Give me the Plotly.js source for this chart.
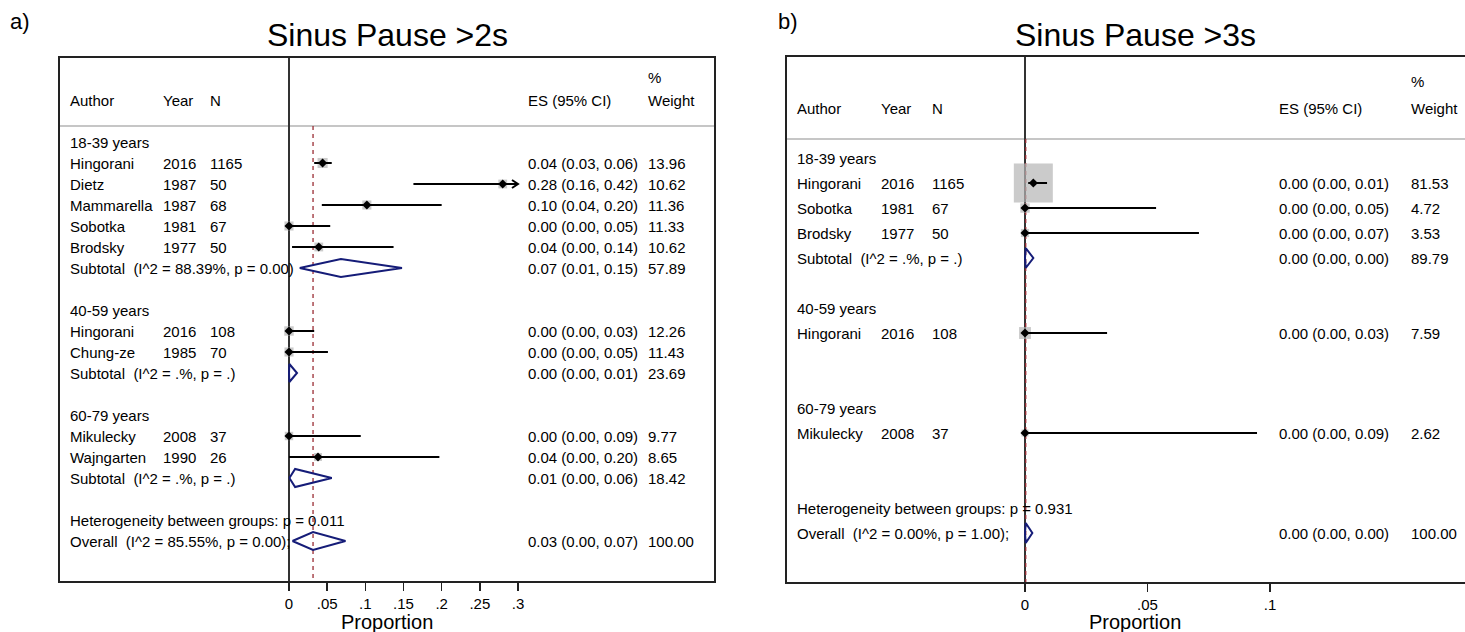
<!DOCTYPE html>
<html><head><meta charset="utf-8">
<script src="https://cdn.plot.ly/plotly-3.0.1.min.js"></script>
<style>html,body{margin:0;padding:0;background:#fff}#chart{width:1465px;height:632px}</style>
</head><body><div id="chart"></div>
<script>
// ---------- Panel a) Sinus Pause >2s ----------
const groupsA   = ['18-39 years','40-59 years','60-79 years'];
const authorsA  = ['Hingorani','Dietz','Mammarella','Sobotka','Brodsky','Hingorani','Chung-ze','Mikulecky','Wajngarten'];
const yearsA    = [2016,1987,1987,1981,1977,2016,1985,2008,1990];
const nA        = [1165,50,68,67,50,108,70,37,26];
const groupOfA  = [0,0,0,0,0,1,1,2,2];
const esA       = [0.044,0.28,0.102,0,0.039,0,0,0,0.038];
const lciA      = [0.033,0.163,0.043,0,0.004,0,0,0,0];
const uciA      = [0.056,0.42,0.20,0.054,0.137,0.033,0.051,0.094,0.197];
const weightA   = [13.96,10.62,11.36,11.33,10.62,12.26,11.43,9.77,8.65];
const subEsA    = [0.068,0.0005,0.008];
const subLciA   = [0.014,0,0.0005];
const subUciA   = [0.148,0.0105,0.056];
const subWA     = [57.89,23.69,18.42];
const subHetA   = ['I^2 = 88.39%, p = 0.00','I^2 = .%, p = .','I^2 = .%, p = .'];
const overallA  = {es:0.0315, lci:0.0045, uci:0.074, w:100, het:'I^2 = 85.55%, p = 0.00', pBetween:'0.011'};
const ticksA    = [0,0.05,0.1,0.15,0.2,0.25,0.3];
const tickTextA = ['0','.05','.1','.15','.2','.25','.3'];

// ---------- Panel b) Sinus Pause >3s ----------
const groupsB   = ['18-39 years','40-59 years','60-79 years'];
const authorsB  = ['Hingorani','Sobotka','Brodsky','Hingorani','Mikulecky'];
const yearsB    = [2016,1981,1977,2016,2008];
const nB        = [1165,67,50,108,37];
const groupOfB  = [0,0,0,1,2];
const esB       = [0.0034,0,0,0,0];
const lciB      = [0.0013,0,0,0,0];
const uciB      = [0.009,0.0535,0.071,0.0335,0.0947];
const weightB   = [81.53,4.72,3.53,7.59,2.62];
const subEsB    = [0.0003,null,null];
const subLciB   = [0,null,null];
const subUciB   = [0.0034,null,null];
const subWB     = [89.79,null,null];
const subHetB   = ['I^2 = .%, p = .',null,null];
const overallB  = {es:0.0003, lci:0, uci:0.003, w:100, het:'I^2 = 0.00%, p = 1.00', pBetween:'0.931'};
const ticksB    = [0,0.05,0.1];
const tickTextB = ['0','.05','.1'];

const W = 1465, H = 632;
const FONT = 'Liberation Sans, Arial, Helvetica, sans-serif';
const NAVY = '#151c78', GRAYBOX = '#b5b5b5', MAROON = '#9a2c34';

const panels = [
  {ax:'', title:'Sinus Pause &gt;2s', label:'a)', labelX:10,
   groups:groupsA, authors:authorsA, years:yearsA, n:nA, grp:groupOfA, es:esA, lci:lciA, uci:uciA, w:weightA,
   subEs:subEsA, subLci:subLciA, subUci:subUciA, subW:subWA, subHet:subHetA, overall:overallA,
   ticks:ticksA, tickText:tickTextA,
   domX:[60,714], domY:[58,581], x0:289, ppu:763.3, row0:100, rowH:21, boxK:2.7, diaH:9, esGap:'  ',
   cols:{author:70, year:163, n:210, es:528, w:648}, center:387},
  {ax:'2', title:'Sinus Pause &gt;3s', label:'b)', labelX:778,
   groups:groupsB, authors:authorsB, years:yearsB, n:nB, grp:groupOfB, es:esB, lci:lciB, uci:uciB, w:weightB,
   subEs:subEsB, subLci:subLciB, subUci:subUciB, subW:subWB, subHet:subHetB, overall:overallB,
   ticks:ticksB, tickText:tickTextB,
   domX:[787,1465], domY:[57,582], x0:1025, ppu:2450, row0:108, rowH:25, boxK:4.32, diaH:10,
   cols:{author:797, year:881, n:932, es:1279, w:1411}, center:1135}
];

const traces = [], annotations = [], shapes = [], layout = {};
const f2 = v => v.toFixed(2);
const esText = (e,l,u) => f2(e) + ' (' + f2(l) + ', ' + f2(u) + ')';

panels.forEach(p => {
  const xa = 'x' + p.ax, ya = 'y' + p.ax;
  const yref = ya;
  const txt = (xpx, row, text, opts) => annotations.push(Object.assign({
    xref:'paper', x:(xpx - 2) / W, yref:yref, y:row, text:text, showarrow:false,
    xanchor:'left', yanchor:'middle', font:{family:FONT, size:15, color:'#000'}
  }, opts || {}));

  // row layout
  const studyRow = [], subRow = [], grpRow = [];
  let r = 2;
  p.groups.forEach((g, gi) => {
    grpRow.push(r); r++;
    p.authors.forEach((a, i) => { if (p.grp[i] === gi) { studyRow[i] = r; r++; } });
    subRow.push(r); r += 2;
  });
  const hetRow = r, ovRow = r + 1;
  const xmaxTick = p.ticks[p.ticks.length - 1];

  // header
  txt(p.cols.author, 0, 'Author'); txt(p.cols.year, 0, 'Year'); txt(p.cols.n, 0, 'N');
  txt(p.cols.es, 0, 'ES (95% CI)'); txt(p.cols.w, 0, 'Weight'); txt(p.cols.w, -1.05, '%');

  p.groups.forEach((g, gi) => txt(p.cols.author, grpRow[gi], g));

  const sqX = [], sqY = [], sqS = [], dX = [], dY = [], lX = [], lY = [], arX = [], arY = [], diX = [], diY = [];
  p.authors.forEach((a, i) => {
    const row = studyRow[i];
    txt(p.cols.author, row, a); txt(p.cols.year, row, String(p.years[i])); txt(p.cols.n, row, String(p.n[i]));
    txt(p.cols.es, row, esText(p.es[i], p.lci[i], p.uci[i])); txt(p.cols.w, row, f2(p.w[i]));
    sqX.push(p.es[i]); sqY.push(row); sqS.push(p.boxK * Math.sqrt(p.w[i]));
    dX.push(p.es[i]); dY.push(row);
    const hi = Math.min(p.uci[i], xmaxTick);
    lX.push(p.lci[i], hi, null); lY.push(row, row, null);
    if (p.uci[i] > xmaxTick) {
      const dx = 6 / p.ppu, dy = 4 / p.rowH;
      arX.push(hi - dx, hi, hi - dx, null); arY.push(row - dy, row, row + dy, null);
    }
  });
  const diamond = (e, l, u, row) => {
    const h = p.diaH / p.rowH;
    diX.push(l, e, u, e, l, null); diY.push(row, row - h, row, row + h, row, null);
  };
  p.groups.forEach((g, gi) => {
    if (p.subEs[gi] === null) return;
    const row = subRow[gi];
    txt(p.cols.author, row, 'Subtotal\u00a0 (' + p.subHet[gi] + ')');
    txt(p.cols.es, row, esText(p.subEs[gi], p.subLci[gi], p.subUci[gi])); txt(p.cols.w, row, f2(p.subW[gi]));
    diamond(p.subEs[gi], p.subLci[gi], p.subUci[gi], row);
  });
  const o = p.overall;
  txt(p.cols.author, hetRow, 'Heterogeneity between groups: p = ' + o.pBetween);
  txt(p.cols.author, ovRow, 'Overall\u00a0 (' + o.het + ');');
  txt(p.cols.es, ovRow, esText(o.es, o.lci, o.uci)); txt(p.cols.w, ovRow, f2(o.w));
  diamond(o.es, o.lci, o.uci, ovRow);

  traces.push({type:'scatter', mode:'markers', x:sqX, y:sqY, xaxis:xa, yaxis:ya, hoverinfo:'skip',
    marker:{symbol:'square', size:sqS, color:GRAYBOX, line:{width:0}}, cliponaxis:false});
  traces.push({type:'scatter', mode:'lines', x:lX, y:lY, xaxis:xa, yaxis:ya, hoverinfo:'skip',
    line:{color:'#000', width:2}});
  if (arX.length) traces.push({type:'scatter', mode:'lines', x:arX, y:arY, xaxis:xa, yaxis:ya, hoverinfo:'skip',
    line:{color:'#000', width:2}, cliponaxis:false});
  traces.push({type:'scatter', mode:'markers', x:dX, y:dY, xaxis:xa, yaxis:ya, hoverinfo:'skip',
    marker:{symbol:'diamond', size:7, color:'#000'}});
  traces.push({type:'scatter', mode:'lines', x:diX, y:diY, xaxis:xa, yaxis:ya, hoverinfo:'skip',
    line:{color:NAVY, width:2}});

  // axes
  const xr = [(p.domX[0] - p.x0) / p.ppu, (p.domX[1] - p.x0) / p.ppu];
  const yr = [(p.domY[1] - p.row0) / p.rowH, (p.domY[0] - p.row0) / p.rowH];
  layout['xaxis' + p.ax] = {domain:[p.domX[0] / W, p.domX[1] / W], range:xr, anchor:ya,
    showline:true, mirror:true, linecolor:'#222', linewidth:2, showgrid:false, zeroline:false,
    ticks:'outside', ticklen:8, tickwidth:1.5, tickcolor:'#222', tickvals:p.ticks, ticktext:p.tickText,
    tickfont:{family:FONT, size:15, color:'#000'}, fixedrange:true};
  layout['yaxis' + p.ax] = {domain:[1 - p.domY[1] / H, 1 - p.domY[0] / H], range:yr, anchor:xa,
    showline:true, mirror:p.ax === '', linecolor:'#222', linewidth:2, showgrid:false, zeroline:false,
    showticklabels:false, ticks:'', fixedrange:true};

  // separator, zero line, overall dashed line
  const sepRow = 1.24;
  shapes.push({type:'line', layer:'below', xref:xa + ' domain', x0:0, x1:1, yref:ya, y0:sepRow, y1:sepRow,
    line:{color:'#c6c6c6', width:2}});
  shapes.push({type:'line', layer:'below', xref:xa, x0:0, x1:0, yref:ya + ' domain', y0:0, y1:1,
    line:{color:'#333', width:2}});
  shapes.push({type:'line', layer:'below', xref:xa, x0:o.es, x1:o.es, yref:ya, y0:sepRow, y1:yr[0],
    line:{color:MAROON, width:1.3, dash:'4px,4px'}});

  // titles
  annotations.push({xref:'paper', yref:'paper', x:p.center / W, y:1 - 35 / H, text:p.title, showarrow:false,
    xanchor:'center', yanchor:'middle', font:{family:FONT, size:32, color:'#000'}});
  annotations.push({xref:'paper', yref:'paper', x:(p.labelX - 2) / W, y:1 - 22 / H, text:p.label, showarrow:false,
    xanchor:'left', yanchor:'middle', font:{family:FONT, size:22, color:'#000'}});
  annotations.push({xref:'paper', yref:'paper', x:p.center / W, y:1 - 622 / H, text:'Proportion', showarrow:false,
    xanchor:'center', yanchor:'middle', font:{family:FONT, size:20, color:'#000'}});
});

Object.assign(layout, {width:W, height:H, margin:{l:0, r:0, t:0, b:0}, showlegend:false,
  paper_bgcolor:'#fff', plot_bgcolor:'#fff', annotations:annotations, shapes:shapes,
  font:{family:FONT, color:'#000'}});

Plotly.newPlot('chart', traces, layout, {staticPlot:true, displayModeBar:false});
</script>
</body></html>
